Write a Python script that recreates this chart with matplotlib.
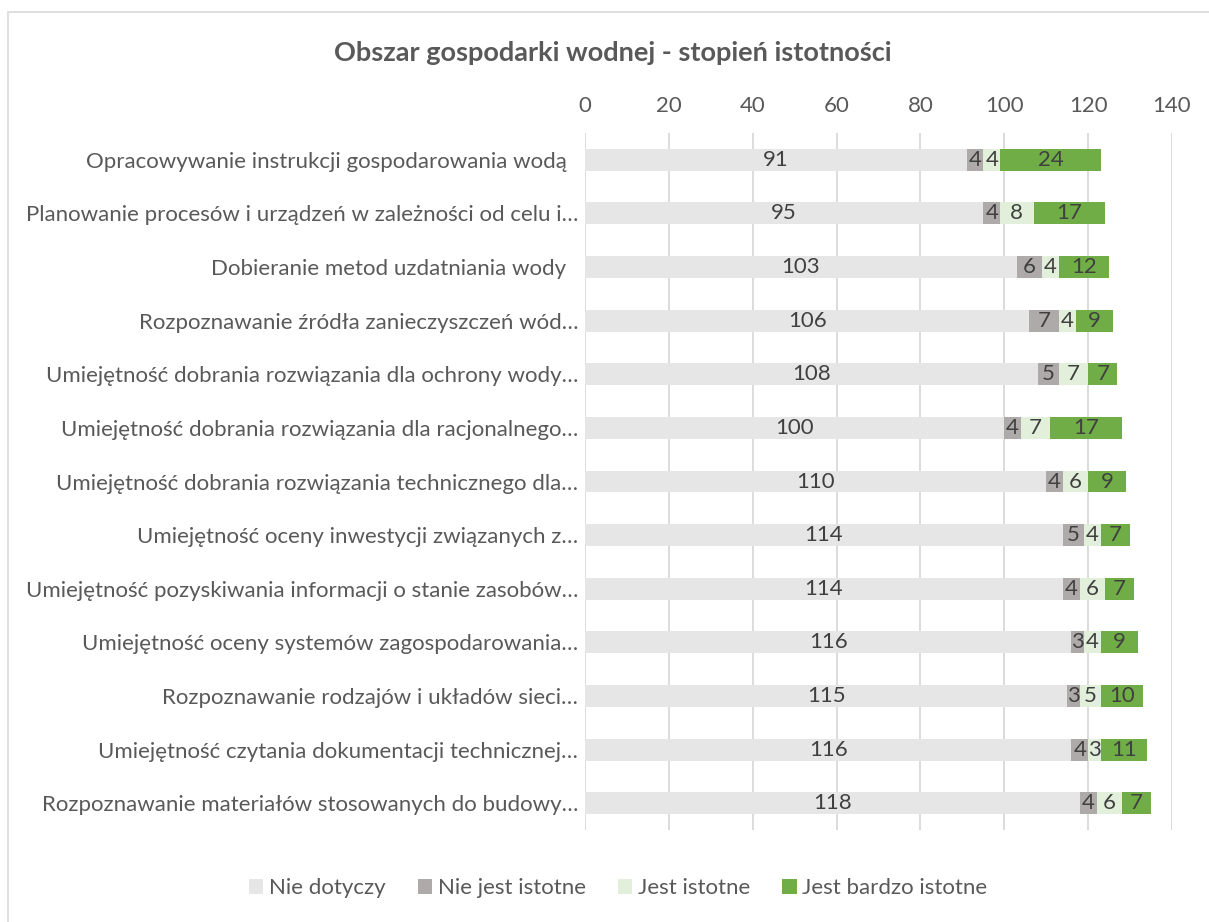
import matplotlib.pyplot as plt
import matplotlib.patches as patches
import numpy as np

plt.rcParams['font.family'] = ['Lato', 'DejaVu Sans']

kategorie = ["Opracowywanie instrukcji gospodarowania wodą  ",
             "Planowanie procesów i urządzeń w zależności od celu i…",
             "Dobieranie metod uzdatniania wody  ",
             "Rozpoznawanie źródła zanieczyszczeń wód…",
             "Umiejętność dobrania rozwiązania dla ochrony wody…",
             "Umiejętność dobrania rozwiązania dla racjonalnego…",
             "Umiejętność dobrania rozwiązania technicznego dla…",
             "Umiejętność oceny inwestycji związanych z…",
             "Umiejętność pozyskiwania informacji o stanie zasobów…",
             "Umiejętność oceny systemów zagospodarowania…",
             "Rozpoznawanie rodzajów i układów sieci…",
             "Umiejętność czytania dokumentacji technicznej…",
             "Rozpoznawanie materiałów stosowanych do budowy…"]
nie_dotyczy = [91, 95, 103, 106, 108, 100, 110, 114, 114, 116, 115, 116, 118]
nie_istotne = [4, 4, 6, 7, 5, 4, 4, 5, 4, 3, 3, 4, 4]
istotne = [4, 8, 4, 4, 7, 7, 6, 4, 6, 4, 5, 3, 6]
bardzo_istotne = [24, 17, 12, 9, 7, 17, 9, 7, 7, 9, 10, 11, 7]
serie = ["Nie dotyczy", "Nie jest istotne", "Jest istotne", "Jest bardzo istotne"]
kolory = ['#E7E6E6', '#AEAAAA', '#E2EFDA', '#70AD47']

fig = plt.figure(figsize=(12.09, 9.22), dpi=100)
fig.patches.append(patches.Rectangle((8/1209, -0.01), 1.02, 1 - 12/922 + 0.01, transform=fig.transFigure,
                                     fill=False, edgecolor='#D9D9D9', linewidth=1.2))
ax = fig.add_axes([585/1209, 1 - 830/922, 587/1209, 697/922])

y = np.arange(len(kategorie))
left = np.zeros(len(kategorie))
for dane, nazwa, kol in zip([nie_dotyczy, nie_istotne, istotne, bardzo_istotne], serie, kolory):
    d = np.array(dane)
    bars = ax.barh(y, d, left=left, height=0.41, color=kol, label=nazwa, zorder=2)
    ax.bar_label(bars, labels=[str(v) for v in d], label_type='center', fontsize=16, color='#404040')
    left += d

ax.set_xlim(0, 140)
ax.set_ylim(len(kategorie) - 0.5, -0.5)
ax.set_xticks(np.arange(0, 141, 20))
ax.xaxis.tick_top()
ax.set_yticks(y)
ax.set_yticklabels(kategorie)
ax.tick_params(axis='both', length=0, labelsize=16, labelcolor='#595959')
ax.tick_params(axis='x', pad=12)
ax.tick_params(axis='y', pad=5)
ax.grid(axis='x', color='#D9D9D9', linewidth=1.3, zorder=0)
for s in ax.spines.values():
    s.set_visible(False)

fig.text(613/1209, 1 - 53/922, "Obszar gospodarki wodnej - stopień istotności", ha='center', va='center',
         fontsize=19.5, fontweight='bold', color='#595959')
fig.legend(loc='center', bbox_to_anchor=(618/1209, 1 - 888/922), ncol=4, frameon=False,
           fontsize=16, labelcolor='#595959', handlelength=0.65, handleheight=0.65,
           handletextpad=0.25, columnspacing=1.45)

plt.savefig('out.png', dpi=100)
